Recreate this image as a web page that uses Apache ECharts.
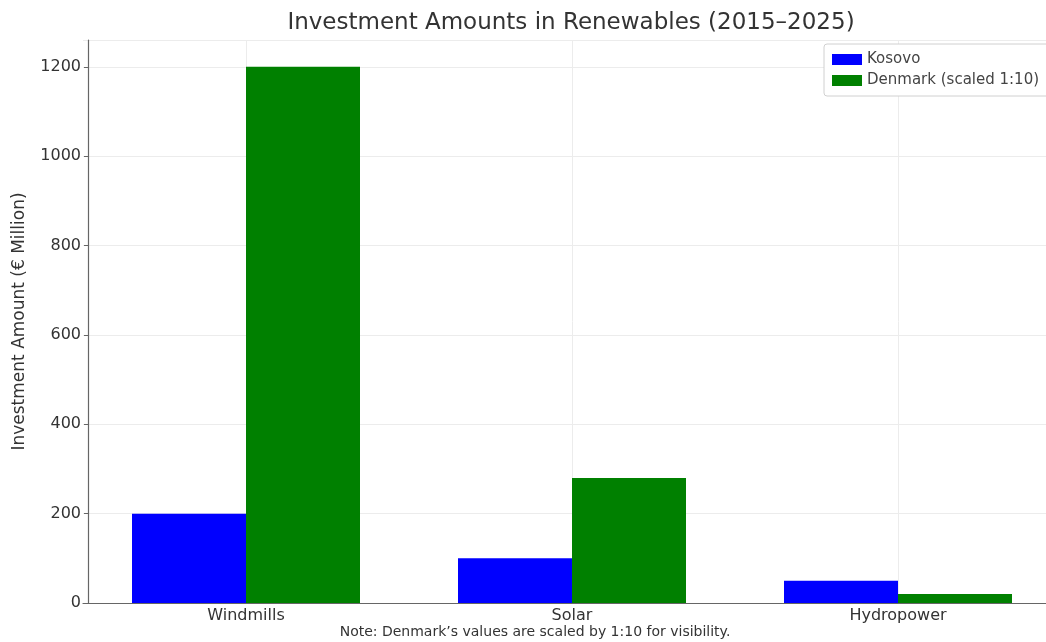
<!DOCTYPE html>
<html>
<head>
<meta charset="utf-8">
<script src="https://cdn.jsdelivr.net/npm/echarts@6/dist/echarts.min.js"></script>
<style>
  html, body { margin: 0; padding: 0; background: #fff; overflow: hidden; }
  #chart { width: 1066px; height: 642px; }
</style>
</head>
<body>
<div id="chart"></div>
<script>
// 类别与数据
const categories = ['Windmills', 'Solar', 'Hydropower']
const kosovo = [200, 100, 50]
const denmarkScaled = [1200, 280, 20] // Denmark values scaled 1:10
const yTicks = [0, 200, 400, 600, 800, 1000, 1200]

const font = 'DejaVu Sans'
const myEchart = echarts.init(document.getElementById('chart'))
const option = {
  animation: false,
  textStyle: { fontFamily: font },
  graphic: [
    {
      type: 'text',
      x: 571,
      y: 23,
      style: {
        text: 'Investment Amounts in Renewables (2015–2025)',
        font: '23px "DejaVu Sans"',
        fill: '#333',
        textAlign: 'center',
        textVerticalAlign: 'middle'
      }
    },
    {
      type: 'text',
      x: 535,
      y: 632,
      style: {
        text: 'Note: Denmark\u2019s values are scaled by 1:10 for visibility.',
        font: '14px "DejaVu Sans"',
        fill: '#333',
        textAlign: 'center',
        textVerticalAlign: 'middle'
      }
    }
  ],
  legend: {
    orient: 'vertical',
    left: 824,
    top: 44,
    itemWidth: 30,
    itemHeight: 11,
    itemGap: 6,
    padding: [8, 12, 8, 8],
    borderColor: '#d0d0d0',
    borderWidth: 1,
    borderRadius: 3,
    backgroundColor: '#fff',
    textStyle: { color: '#444', fontSize: 15, fontFamily: font },
    data: [
      { name: 'Kosovo', icon: 'rect' },
      { name: 'Denmark (scaled 1:10)', icon: 'rect' }
    ]
  },
  grid: {
    left: 83,
    right: 5,
    top: 40,
    bottom: 39,
    containLabel: false
  },
  xAxis: [
    {
      type: 'category',
      data: categories,
      axisLine: { lineStyle: { color: '#666', width: 1.2 } },
      axisTick: { alignWithLabel: true, length: 4, lineStyle: { color: '#666' } },
      axisLabel: { color: '#333', fontSize: 16, margin: 5, fontFamily: font },
      splitLine: { show: false }
    },
    {
      // 只用来画竖向网格线（对齐类别中心）
      type: 'category',
      boundaryGap: false,
      position: 'bottom',
      data: ['', 'a', '', 'b', '', 'c', ''],
      axisLine: { show: false },
      axisTick: { show: false },
      axisLabel: { show: false },
      splitLine: {
        show: true,
        interval: (i) => i % 2 === 1,
        lineStyle: { color: '#ececec', width: 1 }
      }
    }
  ],
  yAxis: {
    type: 'value',
    min: 0,
    max: 1260,
    interval: 200,
    offset: -5,
    name: 'Investment Amount (€ Million)',
    nameLocation: 'middle',
    nameGap: 60,
    nameTextStyle: { color: '#333', fontSize: 17, fontFamily: font },
    axisLine: { show: true, lineStyle: { color: '#666', width: 1.2 } },
    axisTick: { show: true, length: 4, lineStyle: { color: '#666' } },
    axisLabel: {
      color: '#333',
      fontSize: 16,
      margin: 7,
      fontFamily: font,
      showMaxLabel: false,
      formatter: (v) => (yTicks.indexOf(v) >= 0 ? String(v) : '')
    },
    splitLine: { show: true, lineStyle: { color: '#ececec', width: 1 } }
  },
  series: [
    {
      name: 'Kosovo',
      type: 'bar',
      xAxisIndex: 0,
      barWidth: 114,
      barGap: '0%',
      itemStyle: { color: '#0000ff' },
      data: kosovo
    },
    {
      name: 'Denmark (scaled 1:10)',
      type: 'bar',
      xAxisIndex: 0,
      barWidth: 114,
      barGap: '0%',
      itemStyle: { color: '#008000' },
      data: denmarkScaled
    }
  ]
}
myEchart.setOption(option)
</script>
</body>
</html>
